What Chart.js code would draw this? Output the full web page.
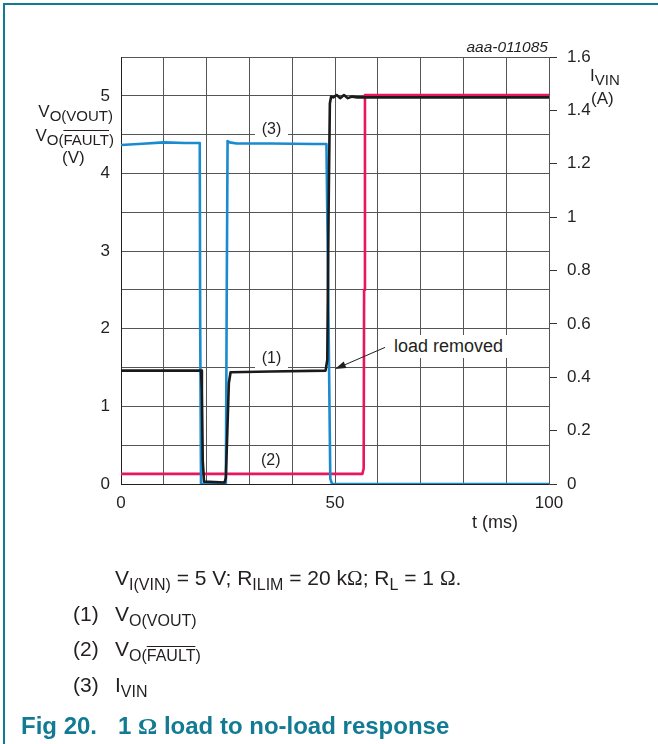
<!DOCTYPE html>
<html>
<head>
<meta charset="utf-8">
<title>1 Ω load to no-load response</title>
<script src="https://cdn.jsdelivr.net/npm/chart.js"></script>
<style>
    body { margin: 0; background: #fff; }
    .page {
        position: relative;
        width: 658px;
        height: 744px;
        overflow: hidden;
        font-family: Arial, "Liberation Sans", sans-serif;
        color: #231f20;
    }
    .chart-box { position: absolute; left: 0; top: 0; width: 658px; height: 744px; }
    .txt { position: absolute; white-space: nowrap; line-height: 1; }
    .txt sub { font-size: 15px; vertical-align: -4px; line-height: 0; }
    .cap sub { font-size: 16px; vertical-align: -5px; }
    .ohm { font-family: "Liberation Serif", "Times New Roman", serif; }
    .bar { text-decoration: overline; text-decoration-thickness: 1.4px; }
    .frame-top { position: absolute; left: 3px; top: 3px; width: 655px; height: 2px; background: #127a93; }
    .frame-left { position: absolute; left: 3px; top: 3px; width: 2px; height: 741px; background: #127a93; }
    .mark { background: #fff; text-align: center; }
</style>
</head>
<body>
<div class="page">
    <div class="chart-box"><canvas id="chart"></canvas></div>

    <div class="frame-top"></div>
    <div class="frame-left"></div>

    <div class="txt" style="right:110px; top:39px; font-size:15.5px; font-style:italic;">aaa-011085</div>

    <!-- left axis title -->
    <div class="txt" style="right:545px; top:103px; font-size:17px;">V<sub>O(VOUT)</sub></div>
    <div class="txt" style="right:544px; top:127px; font-size:17px;">V<sub>O(<span class="bar">FAULT</span>)</sub></div>
    <div class="txt" style="left:62px; top:149px; font-size:17px;">(V)</div>

    <!-- right axis title -->
    <div class="txt" style="left:590px; top:67px; font-size:17px;">I<sub>VIN</sub></div>
    <div class="txt" style="left:591px; top:90px; font-size:17px;">(A)</div>

    <!-- curve labels -->
    <div class="txt mark" style="left:255px; top:121px; width:33px; height:16px; font-size:16px;">(3)</div>
    <div class="txt mark" style="left:255px; top:350px; width:33px; height:19px; font-size:16px;">(1)</div>
    <div class="txt" style="left:261px; top:452px; font-size:16px;">(2)</div>
    <div class="txt" style="left:390px; top:335px; width:114px; height:21px; padding:2px 0 0 4px; background:#fff; font-size:18px; line-height:18px;">load removed</div>

    <div class="txt" style="left:472px; top:513px; font-size:18px;">t (ms)</div>

    <!-- caption -->
    <div class="txt cap" style="left:115px; top:567px; font-size:21px;">V<sub>I(VIN)</sub> = 5 V; R<sub>ILIM</sub> = 20 k<span class="ohm">Ω</span>; R<sub>L</sub> = 1 <span class="ohm">Ω</span>.</div>
    <div class="txt cap" style="left:73px; top:603px; font-size:21px;">(1)</div>
    <div class="txt cap" style="left:115px; top:603px; font-size:21px;">V<sub>O(VOUT)</sub></div>
    <div class="txt cap" style="left:73px; top:638px; font-size:21px;">(2)</div>
    <div class="txt cap" style="left:115px; top:638px; font-size:21px;">V<sub>O(<span class="bar">FAULT</span>)</sub></div>
    <div class="txt cap" style="left:73px; top:674px; font-size:21px;">(3)</div>
    <div class="txt cap" style="left:115px; top:674px; font-size:21px;">I<sub>VIN</sub></div>
    <div class="txt" style="left:21px; top:714px; font-size:24px; font-weight:bold; color:#127a93;">Fig 20.</div>
    <div class="txt" style="left:118px; top:714px; font-size:24px; font-weight:bold; color:#127a93;">1 <span class="ohm">Ω</span> load to no-load response</div>
</div>

<script>
    // time axis in ms
    const tVout = [0, 10, 18.7, 18.9, 19.1, 19.4, 24.2, 24.5, 24.8, 25.2, 25.6, 35, 47.8, 48.2, 48.5, 48.8, 49.1, 49.6, 50.4, 51.2, 52.1, 53.0, 54.0, 55.2, 70, 100];
    const vout  = [1.46, 1.46, 1.46, 1.2, 0.3, 0.03, 0.02, 0.08, 0.6, 1.3, 1.44, 1.45, 1.46, 1.6, 3.5, 4.9, 4.99, 4.98, 5.01, 4.97, 5.01, 4.97, 4.99, 4.98, 4.98, 4.98];

    const tFault = [0, 30, 56.4, 56.7, 56.8, 57.0, 70, 100];
    const vfault = [0.13, 0.13, 0.13, 0.2, 2.5, 5.01, 5.01, 5.01];

    const tIvin = [0, 5, 10, 15, 18.4, 18.5, 18.7, 24.5, 24.7, 24.9, 25.4, 27, 35, 45, 48.0, 48.5, 48.9, 49.3, 60, 100];
    const ivin  = [1.27, 1.275, 1.28, 1.278, 1.278, 0.6, 0.0, 0.0, 0.7, 1.285, 1.28, 1.276, 1.276, 1.274, 1.274, 0.6, 0.02, 0.0, 0.0, 0.0];

    // "load removed" pointer, in (ms, V)
    const arrowFrom = [61.7, 1.76];
    const arrowTo = [50.0, 1.48];

    const FONT = 'Arial, "Liberation Sans", sans-serif';

    function toPoints(xs, ys) {
        return xs.map((x, i) => ({ x: x, y: ys[i] }));
    }

    const arrowPlugin = {
        id: 'arrow',
        afterDatasetsDraw(chart) {
            const c = chart.ctx;
            const x = chart.scales.x, y = chart.scales.y;
            const x1 = x.getPixelForValue(arrowFrom[0]), y1 = y.getPixelForValue(arrowFrom[1]);
            const x2 = x.getPixelForValue(arrowTo[0]), y2 = y.getPixelForValue(arrowTo[1]);
            const a = Math.atan2(y2 - y1, x2 - x1);
            const len = 11, half = 3.5;
            c.save();
            c.strokeStyle = '#231f20';
            c.fillStyle = '#231f20';
            c.lineWidth = 1;
            c.beginPath();
            c.moveTo(x1, y1);
            c.lineTo(x2 - Math.cos(a) * len, y2 - Math.sin(a) * len);
            c.stroke();
            c.beginPath();
            c.moveTo(x2, y2);
            c.lineTo(x2 - Math.cos(a) * len - Math.sin(a) * half, y2 - Math.sin(a) * len + Math.cos(a) * half);
            c.lineTo(x2 - Math.cos(a) * len + Math.sin(a) * half, y2 - Math.sin(a) * len - Math.cos(a) * half);
            c.closePath();
            c.fill();
            c.restore();
        }
    };

    const lineStyle = {
        borderWidth: 2.6,
        pointRadius: 0,
        tension: 0,
        borderJoinStyle: 'round',
        borderCapStyle: 'round',
        fill: false
    };

    new Chart(document.getElementById('chart'), {
        type: 'line',
        data: {
            datasets: [
                Object.assign({ label: 'VO(VOUT)', data: toPoints(tVout, vout), yAxisID: 'y', borderColor: '#1a1a1a', order: 0 }, lineStyle),
                Object.assign({ label: 'IVIN', data: toPoints(tIvin, ivin), yAxisID: 'y1', borderColor: '#1b8bd0', order: 1 }, lineStyle),
                Object.assign({ label: 'VO(FAULT)', data: toPoints(tFault, vfault), yAxisID: 'y', borderColor: '#e8175d', order: 2 }, lineStyle)
            ]
        },
        options: {
            responsive: true,
            maintainAspectRatio: false,
            animation: false,
            layout: { padding: { left: 0, right: 0, top: 57, bottom: 220 } },
            plugins: { legend: { display: false }, tooltip: { enabled: false } },
            scales: {
                x: {
                    type: 'linear',
                    min: 0,
                    max: 100,
                    grid: { color: '#555', lineWidth: 1, drawTicks: false },
                    border: { color: '#231f20', width: 1 },
                    ticks: {
                        stepSize: 10,
                        padding: 9,
                        autoSkip: false,
                        maxRotation: 0,
                        color: '#231f20',
                        font: { size: 17, family: FONT },
                        callback: v => (v % 50 === 0 ? v : '')
                    },
                    afterFit: s => { s.height = 40; }
                },
                y: {
                    position: 'left',
                    min: 0,
                    max: 5.5,
                    grid: { color: '#555', lineWidth: 1, drawTicks: false },
                    border: { color: '#231f20', width: 1 },
                    ticks: {
                        stepSize: 0.5,
                        padding: 11,
                        autoSkip: false,
                        color: '#231f20',
                        font: { size: 17, family: FONT },
                        callback: v => (Number.isInteger(v) ? v : '')
                    },
                    afterFit: s => { s.width = 121; }
                },
                y1: {
                    position: 'right',
                    min: 0,
                    max: 1.6,
                    grid: { drawOnChartArea: false, drawTicks: true, tickLength: 8, color: '#333' },
                    border: { color: '#555', width: 1 },
                    ticks: {
                        stepSize: 0.2,
                        padding: 10,
                        autoSkip: false,
                        color: '#231f20',
                        font: { size: 17, family: FONT },
                        callback: v => String(Math.round(v * 10) / 10)
                    },
                    afterFit: s => { s.width = 109; }
                }
            }
        },
        plugins: [arrowPlugin]
    });
</script>
</body>
</html>
